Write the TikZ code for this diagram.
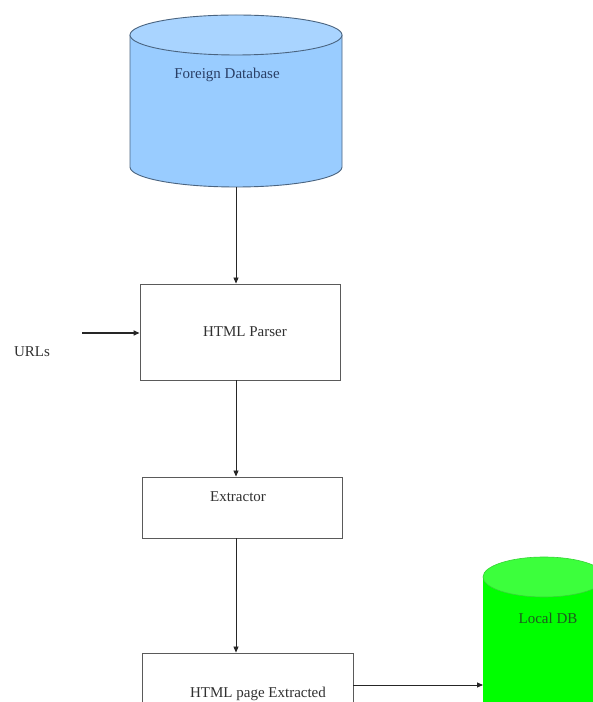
\documentclass[tikz,border=0pt]{standalone}
\usepackage{fontspec}
\setmainfont{Liberation Serif}
\usetikzlibrary{arrows.meta,calc}
\definecolor{dbblue}{HTML}{99CCFF}
\definecolor{dbbluetop}{HTML}{A9D4FF}
\definecolor{dbblueline}{HTML}{4A6480}
\definecolor{dbtext}{HTML}{2A3F66}
\definecolor{dbgreen}{HTML}{00FF00}
\definecolor{dbgreentop}{HTML}{3CFF3C}
\definecolor{dbgreenline}{HTML}{36D436}
\definecolor{greentext}{HTML}{1E5A1E}
\definecolor{boxline}{HTML}{5A5A5A}
\definecolor{txt}{HTML}{303030}
\tikzset{
  boxnode/.style={draw=boxline, line width=0.9pt, fill=white, inner sep=0pt},
  lbl/.style={font=\fontsize{15}{18}\selectfont, text=txt, inner sep=0pt},
  arr/.style={draw=black!85, line width=0.8pt, -{Triangle[length=6pt,width=5pt]}},
}
\begin{document}
\begin{tikzpicture}[x=1pt,y=1pt]
\useasboundingbox (0,0) rectangle (593,702);
\clip (0,0) rectangle (593,702);
\fill[white] (0,0) rectangle (593,702);

% Foreign Database cylinder
\fill[dbblue] (130,667) -- (130,535) arc[start angle=180,end angle=360,x radius=106pt,y radius=20pt] -- (342,667) -- cycle;
\draw[dbblueline, line width=0.9pt] (130,667) -- (130,535) arc[start angle=180,end angle=360,x radius=106pt,y radius=20pt] -- (342,667);
\filldraw[fill=dbbluetop, draw=dbblueline, line width=0.9pt] (236,667) ellipse[x radius=106pt, y radius=20pt];
\node[lbl, text=dbtext] (fdb) at (227,627) {Foreign Database};
\coordinate (fdbbot) at (236,515);

% Local DB cylinder
\fill[dbgreen] (483,125) -- (483,-20) -- (605,-20) -- (605,125) -- cycle;
\filldraw[fill=dbgreentop, draw=dbgreenline, line width=0.6pt] (544,125) ellipse[x radius=61pt, y radius=20pt];
\node[lbl, text=greentext] (ldb) at (548,84) {Local DB};
\coordinate (ldbleft) at (483,17);

% Boxes
\node[boxnode, minimum width=200pt, minimum height=96pt] (parser) at (240,370) {};
\node[lbl] (parsertext) at (245,370) {HTML Parser};
\node[boxnode, minimum width=200pt, minimum height=61pt] (extractor) at (242,194.5) {};
\node[lbl] (extractortext) at (238,205) {Extractor};
\node[boxnode, minimum width=211pt, minimum height=100pt] (page) at (247.5,-1) {};
\node[lbl, anchor=base] (pagetext) at (258,5) {HTML page Extracted};

% URLs
\node[lbl] (urls) at (32,350) {URLs};
\coordinate (urlstart) at (82,369);

% Connectors
\draw[arr] (fdbbot) -- (fdbbot |- parser.north);
\draw[arr, line width=1.6pt] (urlstart) -- (urlstart -| parser.west);
\draw[arr] (fdbbot |- parser.south) -- (fdbbot |- extractor.north);
\draw[arr] (fdbbot |- extractor.south) -- (fdbbot |- page.north);
\draw[arr] (page.east |- ldbleft) -- (ldbleft);
\end{tikzpicture}
\end{document}
